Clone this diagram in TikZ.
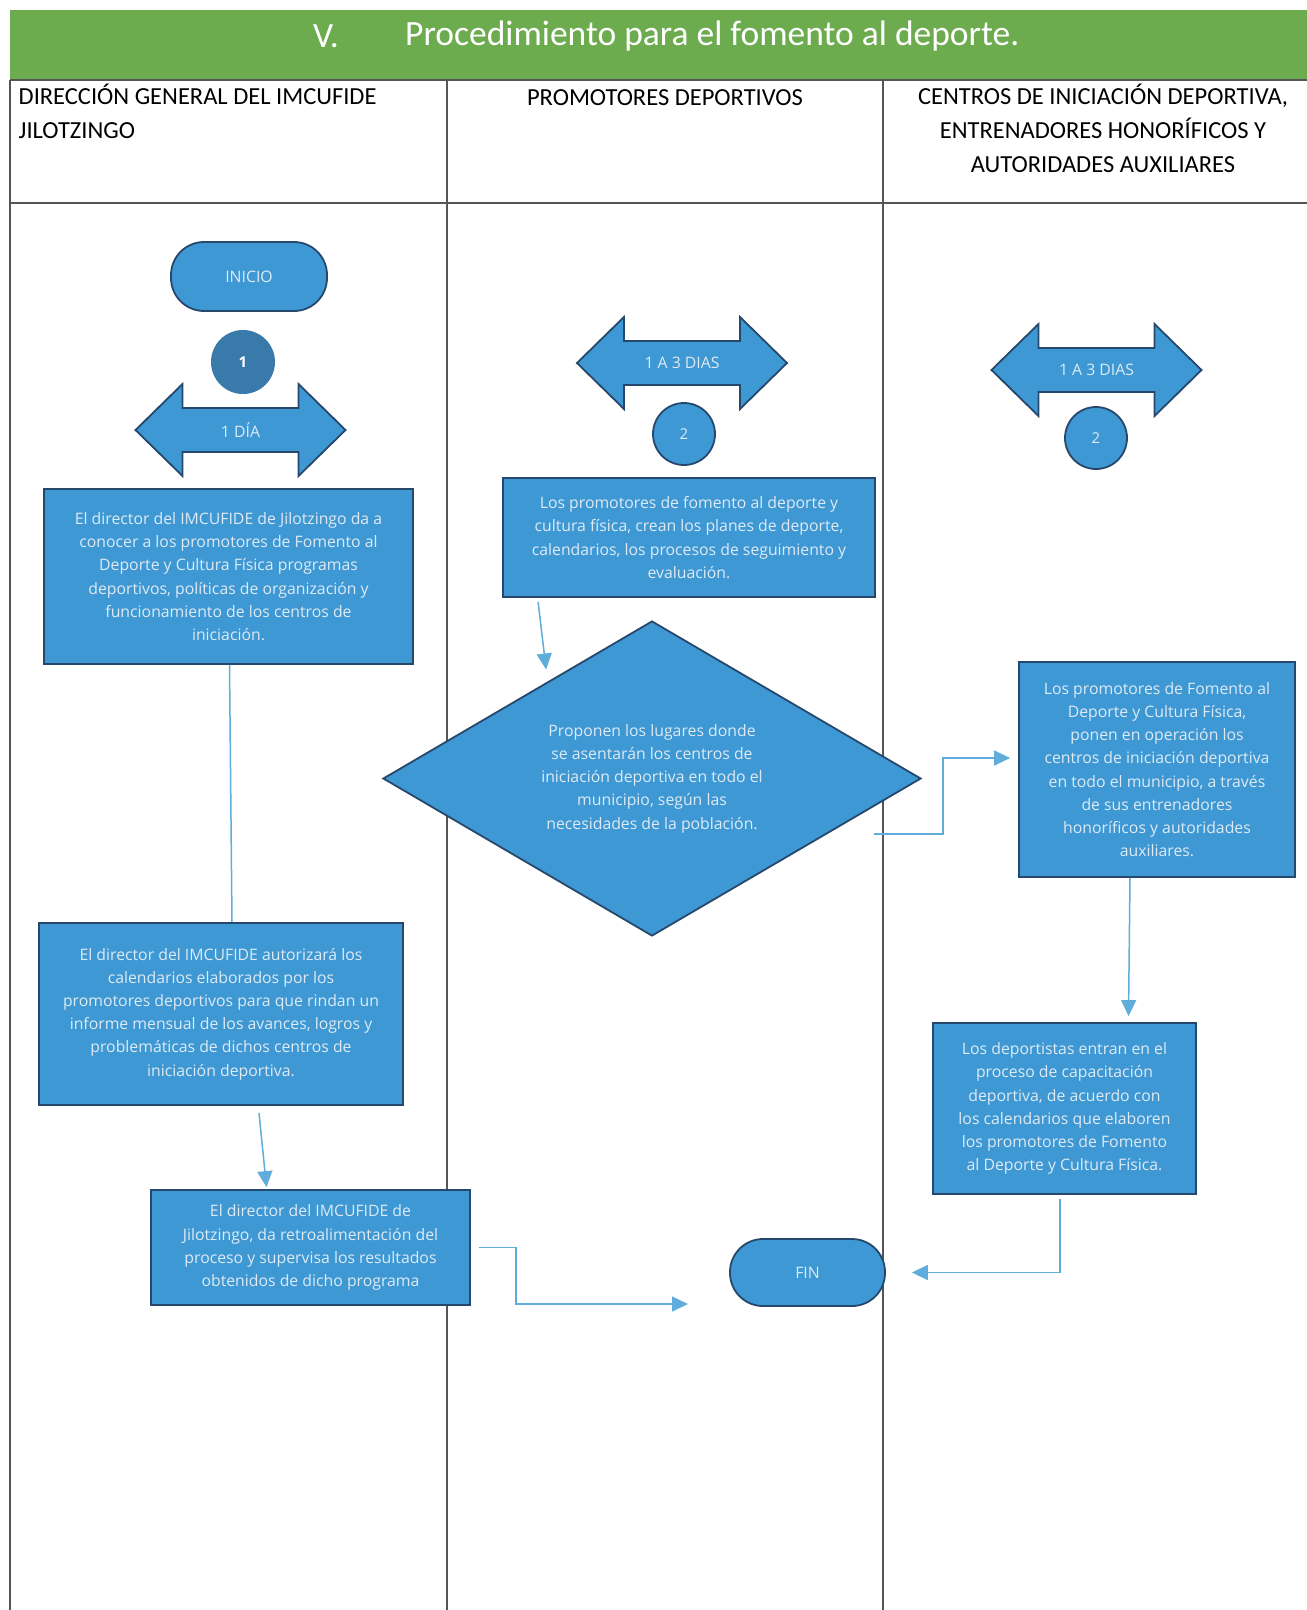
\documentclass[tikz,border=0pt]{standalone}
\usepackage{fontspec}
\setmainfont{Carlito}
\newfontfamily\boxfont{Open Sans}
\usetikzlibrary{shapes.geometric,arrows.meta,calc}
\definecolor{boxblue}{RGB}{62,152,212}
\definecolor{boxline}{RGB}{38,72,108}
\definecolor{boxtext}{RGB}{222,234,244}
\definecolor{dotblue}{RGB}{58,122,170}
\definecolor{linkblue}{RGB}{96,172,218}
\definecolor{headgreen}{RGB}{108,172,78}
\definecolor{laneline}{RGB}{85,85,85}
\begin{document}
\begin{tikzpicture}[x=1pt,y=-1pt,
  flowbox/.style={draw=boxline, line width=1.8pt, fill=boxblue, text=boxtext, inner sep=0pt, align=center, font=\boxfont\fontsize{15.8}{23.2}\selectfont},
  flowend/.style={flowbox, rounded corners=33pt},
  flowshape/.style={draw=boxline, line width=1.8pt, fill=boxblue},
  flowlabel/.style={text=boxtext, inner sep=0pt, align=center, font=\boxfont\fontsize{15.8}{23.2}\selectfont},
  stepdot/.style={circle, fill=dotblue, text=white, inner sep=0pt, minimum size=64pt, font=\boxfont\fontsize{15}{18}\selectfont\bfseries},
  stepring/.style={circle, draw=boxline, line width=1.8pt, fill=boxblue, text=boxtext, inner sep=0pt, minimum size=62pt, font=\boxfont\fontsize{15}{18}\selectfont},
  lanehead/.style={inner sep=0pt, font=\fontsize{24.5}{34}\selectfont},
  lane/.style={draw=laneline, line width=1.2pt},
  link/.style={draw=linkblue, line width=1.5pt},
  linkarrow/.style={link, -{Triangle[length=16pt,width=15pt]}}]
\useasboundingbox (0,0) rectangle (1307,1610);
\fill[headgreen] (10,10) rectangle (1307,80);
\node[inner sep=0pt, text=white, font=\fontsize{35.5}{38}\selectfont] (num) at (326,36) {V.};
\node[inner sep=0pt, text=white, anchor=west, font=\fontsize{35.5}{38}\selectfont] (title) at (405,36) {Procedimiento para el fomento al deporte.};
\draw[lane] (10,80) -- (1307,80);
\draw[lane] (10,203) -- (1307,203);
\draw[lane] (10,80) -- (10,1610);
\draw[lane] (447,80) -- (447,1610);
\draw[lane] (883,80) -- (883,1610);
\node[lanehead, anchor=north west, align=left] (lanea) at (18.5,84) {DIRECCIÓN GENERAL DEL IMCUFIDE\\JILOTZINGO};
\node[lanehead, anchor=north, align=center] (laneb) at (665,89) {PROMOTORES DEPORTIVOS};
\node[lanehead, anchor=north, align=center] (lanec) at (1103,84) {CENTROS DE INICIACIÓN DEPORTIVA,\\ENTRENADORES HONORÍFICOS Y\\AUTORIDADES AUXILIARES};
\foreach \cx/\cy in {240.5/430, 682/363, 1096.5/370}
  \draw[flowshape, shift={(\cx,\cy)}] (-105,0) -- (-58,-46) -- (-58,-22) -- (58,-22) -- (58,-46) -- (105,0) -- (58,46) -- (58,22) -- (-58,22) -- (-58,46) -- cycle;
\node[flowend, minimum width=156pt, minimum height=69pt] (inicio) at (249,276.5) {INICIO};
\node[stepdot] (dot1) at (243,362) {1};
\node[flowlabel] (dia1) at (240.5,430) {1 DÍA};
\node[flowlabel] (dias2) at (682,363) {1 A 3 DIAS};
\node[flowlabel] (dias3) at (1096.5,370) {1 A 3 DIAS};
\node[stepring] (ring2) at (684,434) {2};
\node[stepring] (ring3) at (1096,438) {2};
\node[flowbox, minimum width=369pt, minimum height=175pt] (dar) at (228.5,576.5) {El director del IMCUFIDE de Jilotzingo da a\\conocer a los promotores de Fomento al\\Deporte y Cultura Física programas\\deportivos, políticas de organización y\\funcionamiento de los centros de\\iniciación.};
\node[flowbox, minimum width=372pt, minimum height=119pt] (planes) at (689,537.5) {Los promotores de fomento al deporte y\\cultura física, crean los planes de deporte,\\calendarios, los procesos de seguimiento y\\evaluación.};
\node[flowbox, diamond, aspect=1.708, minimum width=538pt, minimum height=315pt] (lugares) at (652,778.5) {Proponen los lugares donde\\se asentarán los centros de\\iniciación deportiva en todo el\\municipio, según las\\necesidades de la población.};
\node[flowbox, minimum width=276pt, minimum height=215pt] (operacion) at (1157,769.5) {Los promotores de Fomento al\\Deporte y Cultura Física,\\ponen en operación los\\centros de iniciación deportiva\\en todo el municipio, a través\\de sus entrenadores\\honoríficos y autoridades\\auxiliares.};
\node[flowbox, minimum width=364pt, minimum height=182pt] (autoriza) at (221,1014) {El director del IMCUFIDE autorizará los\\calendarios elaborados por los\\promotores deportivos para que rindan un\\informe mensual de los avances, logros y\\problemáticas de dichos centros de\\iniciación deportiva.};
\node[flowbox, minimum width=263pt, minimum height=171pt] (capacita) at (1064.5,1108.5) {Los deportistas entran en el\\proceso de capacitación\\deportiva, de acuerdo con\\los calendarios que elaboren\\los promotores de Fomento\\al Deporte y Cultura Física.};
\node[flowbox, minimum width=319pt, minimum height=115pt] (supervisa) at (310.5,1247.5) {El director del IMCUFIDE de\\Jilotzingo, da retroalimentación del\\proceso y supervisa los resultados\\obtenidos de dicho programa};
\node[flowend, minimum width=155pt, minimum height=67pt] (fin) at (807.5,1272.5) {FIN};
\coordinate (lugaresout) at (874,834);
\coordinate (finin) at (688,1304);
\draw[link] ([xshift=1pt]dar.south) -- ([xshift=11pt]autoriza.north);
\draw[linkarrow, shorten >=12pt] ([xshift=36pt,yshift=-4pt]planes.south west) -- ($(lugares.west)!0.613!(lugares.north)$);
\draw[linkarrow] (lugaresout) -- ++(69,0) |- ([xshift=-8pt,yshift=11.5pt]operacion.west);
\draw[linkarrow] ([xshift=-27pt]operacion.south) -- ([xshift=64pt,yshift=6pt]capacita.north);
\draw[linkarrow] ([xshift=38pt,yshift=-7pt]autoriza.south) -- ([xshift=-44pt,yshift=2pt]supervisa.north);
\draw[linkarrow] ([xshift=8pt]supervisa.east) -- ++(37,0) |- (finin);
\draw[linkarrow] ([xshift=-4.5pt,yshift=-4pt]capacita.south) |- ([xshift=26pt]fin.east);
\end{tikzpicture}
\end{document}
